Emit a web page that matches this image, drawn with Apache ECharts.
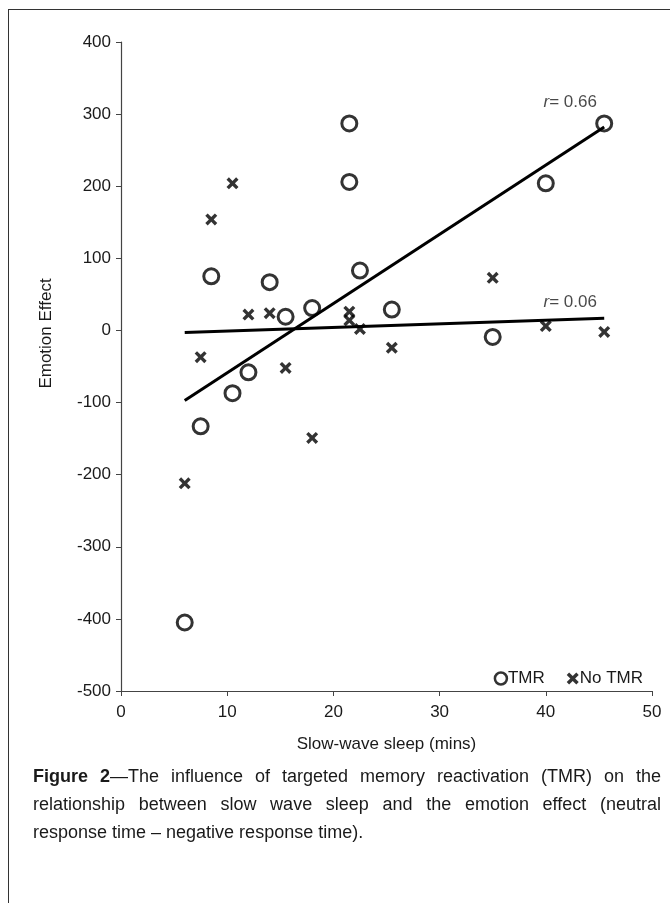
<!DOCTYPE html>
<html>
<head>
<meta charset="utf-8">
<script src="https://cdn.jsdelivr.net/npm/echarts@6/dist/echarts.min.js"></script>
<style>
    body { margin: 0; background: #fff; }
    #chart { width: 670px; height: 903px; }
    #frame {
        position: absolute; left: 8px; top: 9px; width: 700px; height: 920px;
        border-left: 1.5px solid #333; border-top: 1.5px solid #333;
    }
    #caption {
        position: absolute; left: 33px; top: 762px; width: 628px;
        font-family: "Liberation Sans", Arial, sans-serif; font-size: 18px; line-height: 28px;
        color: #1a1a1a; text-align: justify; text-align-last: left;
    }
</style>
</head>
<body>
<div id="frame"></div>
<div id="chart"></div>
<div id="caption"><b>Figure 2</b>—The influence of targeted memory reactivation (TMR) on the relationship between slow wave sleep and the emotion effect (neutral response time – negative response time).</div>
<script>
    // values (SWS in half-minute epochs)
    var tmrSws = [6, 7.5, 10.5, 12, 8.5, 14, 15.5, 18, 21.5, 21.5, 22.5, 25.5, 35, 40, 45.5]
    var tmrEffect = [-405, -133, -87, -58, 75, 67, 19, 31, 287, 206, 83, 29, -9, 204, 287]
    var noTmrSws = [6, 7.5, 8.5, 10.5, 12, 14, 15.5, 18, 21.5, 21.5, 22.5, 25.5, 35, 40, 45.5]
    var noTmrEffect = [-212, -37, 154, 204, 22, 24, -52, -149, 26, 14, 2, -24, 73, 6, -2]
    var tmrTrend = [[6, -97], [45.5, 282]]
    var noTmrTrend = [[6, -3], [45.5, 17]]
    var rLabels = [[42.3, 317, '0.66'], [42.3, 39, '0.06']]

    var crossPath = 'path://M0,2 L2,0 L5,3 L8,0 L10,2 L7,5 L10,8 L8,10 L5,7 L2,10 L0,8 L3,5 Z'
    var font = '"Liberation Sans", Arial, sans-serif'

    var zip = function (xs, ys) {
        return xs.map(function (x, i) { return [x, ys[i]] })
    }

    var option = {
        animation: false,
        textStyle: { fontFamily: font, color: '#1a1a1a' },
        grid: { left: 121, right: 18, top: 42, bottom: 212 },
        legend: {
            right: 22,
            top: 665,
            itemGap: 22,
            itemWidth: 12,
            itemHeight: 12,
            textStyle: { fontSize: 17, color: '#1a1a1a', padding: [0, 0, 0, -4] },
            data: [
                { name: 'TMR', icon: 'circle', itemStyle: { borderWidth: 2.5, color: '#fff', borderColor: '#000' } },
                { name: 'No TMR', icon: crossPath }
            ]
        },
        xAxis: {
            type: 'value',
            min: 0,
            max: 50,
            interval: 10,
            name: 'Slow-wave sleep (mins)',
            nameLocation: 'middle',
            nameGap: 45,
            nameTextStyle: { fontSize: 17, color: '#1a1a1a' },
            splitLine: { show: false },
            axisLine: { onZero: false, lineStyle: { color: '#444', width: 1.2 } },
            axisTick: { show: true, length: 5, lineStyle: { color: '#444' } },
            axisLabel: { fontSize: 17, color: '#1a1a1a', margin: 13 }
        },
        yAxis: {
            type: 'value',
            min: -500,
            max: 400,
            interval: 100,
            name: 'Emotion Effect',
            nameLocation: 'middle',
            nameRotate: 90,
            nameGap: 66,
            nameTextStyle: { fontSize: 17, color: '#1a1a1a', padding: [0, 0, 0, 66] },
            splitLine: { show: false },
            axisLine: { show: true, onZero: false, lineStyle: { color: '#444', width: 1.2 } },
            axisTick: { show: true, length: 5, lineStyle: { color: '#444' } },
            axisLabel: { fontSize: 17, color: '#1a1a1a', margin: 10 }
        },
        series: [
            {
                name: 'TMR trend',
                type: 'line',
                data: tmrTrend,
                showSymbol: false,
                silent: true,
                lineStyle: { color: '#000', width: 3 }
            },
            {
                name: 'No TMR trend',
                type: 'line',
                data: noTmrTrend,
                showSymbol: false,
                silent: true,
                lineStyle: { color: '#000', width: 3 }
            },
            {
                name: 'No TMR',
                type: 'scatter',
                data: zip(noTmrSws, noTmrEffect),
                symbol: crossPath,
                symbolSize: 12,
                itemStyle: { color: '#000' }
            },
            {
                name: 'TMR',
                type: 'scatter',
                data: zip(tmrSws, tmrEffect),
                symbol: 'circle',
                symbolSize: 15,
                itemStyle: { color: 'rgba(255,255,255,0)', borderColor: '#000', borderWidth: 3 }
            },
            {
                name: 'r labels',
                type: 'scatter',
                data: rLabels,
                symbolSize: 0,
                silent: true,
                label: {
                    show: true,
                    position: 'inside',
                    fontSize: 17,
                    color: '#1a1a1a',
                    formatter: function (p) { return '{i|r}= ' + p.data[2] },
                    rich: { i: { fontStyle: 'italic', fontSize: 17, color: '#1a1a1a' } }
                }
            }
        ]
    }

    var myChart = echarts.init(document.getElementById('chart'))
    myChart.setOption(option)
</script>
</body>
</html>
